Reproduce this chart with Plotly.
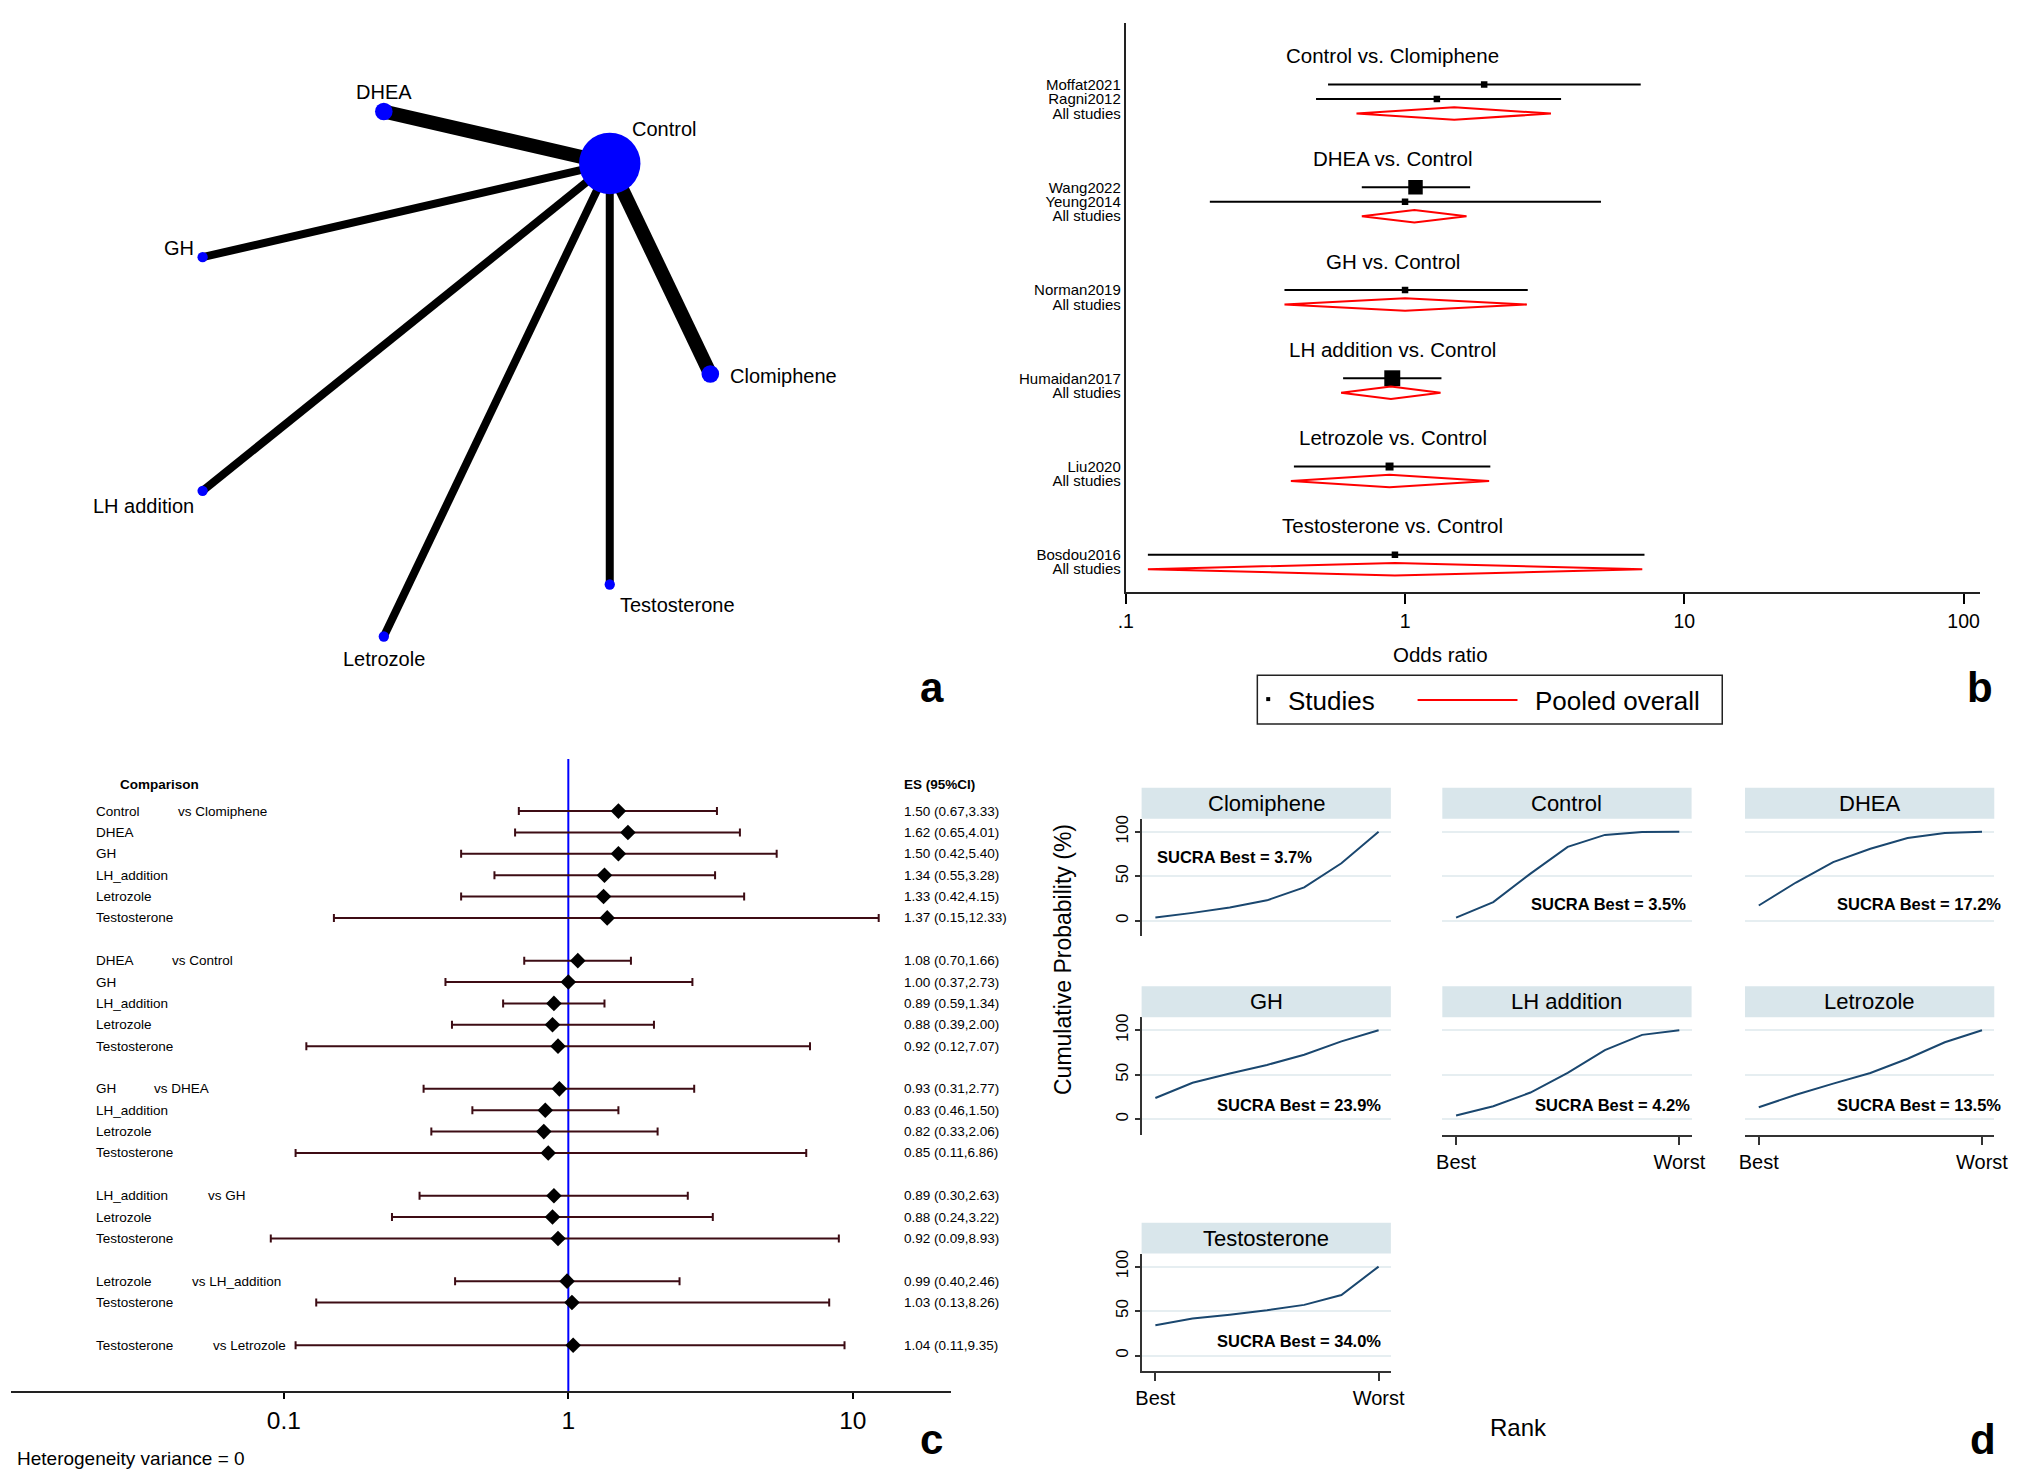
import math
import plotly.graph_objects as go

W, H = 2033, 1472
FONT = "Liberation Sans, Arial, Helvetica, sans-serif"

# ---------------- data: panel a (network) ----------------
net_nodes = ["Clomiphene", "Control", "DHEA", "GH", "LH addition", "Letrozole", "Testosterone"]
net_node_studies = [2, 8, 2, 1, 1, 1, 1]
net_edges = [("Control", "Clomiphene"), ("Control", "DHEA"), ("Control", "GH"),
             ("Control", "LH addition"), ("Control", "Letrozole"), ("Control", "Testosterone")]
net_edge_studies = [2, 2, 1, 1, 1, 1]

# ---------------- data: panel b (pairwise forest) ----------------
b_titles = ["Control vs. Clomiphene", "DHEA vs. Control", "GH vs. Control",
            "LH addition vs. Control", "Letrozole vs. Control", "Testosterone vs. Control"]
b_studies = [["Moffat2021", "Ragni2012"], ["Wang2022", "Yeung2014"], ["Norman2019"],
             ["Humaidan2017"], ["Liu2020"], ["Bosdou2016"]]
b_or = [[1.92, 1.30], [1.09, 1.00], [1.00], [0.90], [0.88], [0.92]]
b_lo = [[0.53, 0.48], [0.70, 0.20], [0.37], [0.60], [0.40], [0.12]]
b_hi = [[6.98, 3.62], [1.71, 5.03], [2.75], [1.35], [2.02], [7.20]]
b_pool_or = [1.50, 1.08, 1.00, 0.89, 0.88, 0.92]
b_pool_lo = [0.67, 0.70, 0.37, 0.59, 0.39, 0.12]
b_pool_hi = [3.33, 1.66, 2.73, 1.34, 2.00, 7.07]

# ---------------- data: panel c (network forest) ----------------
c_groups = ["Clomiphene", "Control", "DHEA", "GH", "LH_addition", "Letrozole"]
c_treat = [["Control", "DHEA", "GH", "LH_addition", "Letrozole", "Testosterone"],
           ["DHEA", "GH", "LH_addition", "Letrozole", "Testosterone"],
           ["GH", "LH_addition", "Letrozole", "Testosterone"],
           ["LH_addition", "Letrozole", "Testosterone"],
           ["Letrozole", "Testosterone"],
           ["Testosterone"]]
c_es = [[1.50, 1.62, 1.50, 1.34, 1.33, 1.37], [1.08, 1.00, 0.89, 0.88, 0.92],
        [0.93, 0.83, 0.82, 0.85], [0.89, 0.88, 0.92], [0.99, 1.03], [1.04]]
c_lo = [[0.67, 0.65, 0.42, 0.55, 0.42, 0.15], [0.70, 0.37, 0.59, 0.39, 0.12],
        [0.31, 0.46, 0.33, 0.11], [0.30, 0.24, 0.09], [0.40, 0.13], [0.11]]
c_hi = [[3.33, 4.01, 5.40, 3.28, 4.15, 12.33], [1.66, 2.73, 1.34, 2.00, 7.07],
        [2.77, 1.50, 2.06, 6.86], [2.63, 3.22, 8.93], [2.46, 8.26], [9.35]]

# ---------------- data: panel d (cumulative rankograms) ----------------
d_treat = ["Clomiphene", "Control", "DHEA", "GH", "LH addition", "Letrozole", "Testosterone"]
d_rank = [1, 2, 3, 4, 5, 6, 7]
d_cum = [[3.7, 8.9, 15.0, 23.0, 37.5, 64.6, 100],
         [3.5, 21.0, 53.0, 83.0, 96.5, 99.8, 100],
         [17.2, 43.0, 66.0, 81.0, 93.0, 98.5, 100],
         [23.9, 41.0, 51.5, 61.0, 72.4, 87.5, 100],
         [4.2, 14.6, 30.0, 52.0, 77.6, 94.8, 100],
         [13.5, 27.6, 40.0, 52.0, 68.0, 86.5, 100],
         [34.0, 41.7, 46.0, 51.0, 57.0, 68.0, 100]]
d_sucra = [3.7, 3.5, 17.2, 23.9, 4.2, 13.5, 34.0]


# ---------------- helpers ----------------
def dx(a, b):
    return [a / W, b / W]


def dy(top, bottom):
    return [1 - bottom / H, 1 - top / H]


def px(x):
    return x / W


def py(y):
    return 1 - y / H


fig = go.Figure()
layout = dict(width=W, height=H, margin=dict(l=0, r=0, t=0, b=0),
              paper_bgcolor="white", plot_bgcolor="rgba(0,0,0,0)", showlegend=False,
              font=dict(family=FONT, color="black"))
ann = []
shapes = []

# ================= panel a =================
n = len(net_nodes)
ang = [2 * math.pi * k / n for k in range(n)]
nxs = [math.cos(a) for a in ang]
nys = [math.sin(a) for a in ang]
pos = {name: (x, y) for name, x, y in zip(net_nodes, nxs, nys)}
for (u, v), ns in zip(net_edges, net_edge_studies):
    fig.add_trace(go.Scatter(x=[pos[u][0], pos[v][0]], y=[pos[u][1], pos[v][1]], mode="lines",
                             line=dict(color="black", width=2 + 6 * ns), xaxis="x", yaxis="y",
                             hoverinfo="skip"))
fig.add_trace(go.Scatter(x=nxs, y=nys, mode="markers", xaxis="x", yaxis="y",
                         marker=dict(size=[3 + 7.3 * s for s in net_node_studies], color="#0000ff",
                                     opacity=1, line=dict(width=0)), hoverinfo="skip"))
layout["xaxis"] = dict(domain=dx(0, 900), range=[-440 / 270, 460 / 270], visible=False)
layout["yaxis"] = dict(domain=dy(0, 700), range=[(371 - 700) / 270, 371 / 270], visible=False)
lab_style = {"Clomiphene": ("left", 18, -2), "Control": ("left", 20, 34), "DHEA": ("center", 0, 19),
             "GH": ("right", -7, 9), "LH addition": ("right", -7, -15), "Letrozole": ("center", 0, -22),
             "Testosterone": ("left", 8, -20)}
for name in net_nodes:
    xa, xs, ys = lab_style[name]
    ann.append(dict(x=pos[name][0], y=pos[name][1], xref="x", yref="y", text=name, showarrow=False,
                    xanchor=xa, yanchor="middle", xshift=xs, yshift=ys, font=dict(size=20)))
ann.append(dict(x=px(934), y=py(685), xref="paper", yref="paper", text="<b>a</b>", showarrow=False,
                font=dict(size=42), xanchor="center", yanchor="middle"))

# ================= panel b =================
title_y, study_y, pool_y = [], [], []
t = 0.0
for g in range(len(b_titles)):
    title_y.append(t)
    r = t + 2
    ys = []
    for _ in b_studies[g]:
        ys.append(r)
        r += 1
    study_y.append(ys)
    pool_y.append(r)
    t = r + 3.1
yb_bottom = pool_y[-1] + 1.6
yb_top = -2.26
tickv, tickt = [], []
for g in range(len(b_titles)):
    for s, yy in zip(b_studies[g], study_y[g]):
        tickv.append(yy)
        tickt.append(s)
    tickv.append(pool_y[g])
    tickt.append("All studies")

for g in range(len(b_titles)):
    for k in range(len(b_studies[g])):
        yy = study_y[g][k]
        fig.add_trace(go.Scatter(x=[b_lo[g][k], b_hi[g][k]], y=[yy, yy], mode="lines",
                                 line=dict(color="black", width=2), xaxis="x2", yaxis="y2",
                                 hoverinfo="skip"))
        se = (math.log(b_hi[g][k]) - math.log(b_lo[g][k])) / 3.92
        size = max(6.5, 3.3 * math.sqrt(1 / se ** 2))
        fig.add_trace(go.Scatter(x=[b_or[g][k]], y=[yy], mode="markers",
                                 marker=dict(symbol="square", size=size, color="black", opacity=1),
                                 xaxis="x2", yaxis="y2", hoverinfo="skip"))
    yy = pool_y[g]
    h = 0.43
    fig.add_trace(go.Scatter(x=[b_pool_lo[g], b_pool_or[g], b_pool_hi[g], b_pool_or[g], b_pool_lo[g]],
                             y=[yy, yy - h, yy, yy + h, yy], mode="lines",
                             line=dict(color="#ff0000", width=2), xaxis="x2", yaxis="y2",
                             hoverinfo="skip"))
    ann.append(dict(x=px(1400), y=title_y[g], xref="paper", yref="y2", text=b_titles[g],
                    showarrow=False, xanchor="center", yanchor="middle", font=dict(size=20.5)))

layout["xaxis2"] = dict(domain=dx(1130, 1994), type="log", range=[-1, 2 + 17 / 282.3], anchor="y2",
                        tickvals=[0.1, 1, 10, 100], ticktext=[".1", "1", "10", "100"],
                        ticks="outside", ticklen=10, tickwidth=2, tickcolor="black",
                        showline=True, linewidth=2, linecolor="#222", showgrid=False,
                        zeroline=False, tickfont=dict(size=19.5))
layout["yaxis2"] = dict(domain=dy(19, 590), range=[yb_bottom, yb_top], anchor="x2",
                        tickvals=tickv, ticktext=tickt, ticks="", showline=True, linewidth=2,
                        linecolor="#222", showgrid=False, zeroline=False, tickfont=dict(size=15))
ann.append(dict(x=px(1498), y=py(652), xref="paper", yref="paper", text="Odds ratio",
                showarrow=False, font=dict(size=20.5)))
# legend box
shapes.append(dict(type="rect", xref="paper", yref="paper", x0=px(1263), x1=px(1733),
                   y0=py(722), y1=py(673), line=dict(color="#222", width=1.5)))
shapes.append(dict(type="rect", xref="paper", yref="paper", x0=px(1272), x1=px(1276),
                   y0=py(699), y1=py(695), fillcolor="black", line=dict(width=0)))
shapes.append(dict(type="line", xref="paper", yref="paper", x0=px(1425), x1=px(1526),
                   y0=py(698), y1=py(698), line=dict(color="#ff0000", width=2)))
ann.append(dict(x=px(1292), y=py(699), xref="paper", yref="paper", text="Studies", showarrow=False,
                xanchor="left", yanchor="middle", font=dict(size=26)))
ann.append(dict(x=px(1542), y=py(699), xref="paper", yref="paper", text="Pooled overall",
                showarrow=False, xanchor="left", yanchor="middle", font=dict(size=26)))
ann.append(dict(x=px(1994), y=py(685), xref="paper", yref="paper", text="<b>b</b>", showarrow=False,
                font=dict(size=42), xanchor="center", yanchor="middle"))

# ================= panel c =================
vs_x = {"Clomiphene": 170, "Control": 164, "DHEA": 146, "GH": 200, "LH_addition": 184, "Letrozole": 205}
row = 0
cx_es, cx_lo, cx_hi, cy = [], [], [], []
for g, ref in enumerate(c_groups):
    for k, trt in enumerate(c_treat[g]):
        cx_es.append(c_es[g][k])
        cx_lo.append(c_lo[g][k])
        cx_hi.append(c_hi[g][k])
        cy.append(row)
        ann.append(dict(x=px(87), y=row, xref="paper", yref="y3", text=trt, showarrow=False,
                        xanchor="left", yanchor="middle", font=dict(size=13.5)))
        if k == 0:
            ann.append(dict(x=px(vs_x[ref]), y=row, xref="paper", yref="y3", text="vs " + ref,
                            showarrow=False, xanchor="left", yanchor="middle", font=dict(size=13.5)))
        ann.append(dict(x=px(904), y=row, xref="paper", yref="y3",
                        text="%.2f (%.2f,%.2f)" % (c_es[g][k], c_lo[g][k], c_hi[g][k]),
                        showarrow=False, xanchor="left", yanchor="middle", font=dict(size=13.5)))
        row += 1
    row += 1

fig.add_trace(go.Scatter(x=cx_es, y=cy, mode="markers", xaxis="x3", yaxis="y3",
                         marker=dict(symbol="diamond", size=12, color="black", opacity=1),
                         error_x=dict(type="data", symmetric=False,
                                      array=[h_ - e for h_, e in zip(cx_hi, cx_es)],
                                      arrayminus=[e - l for l, e in zip(cx_lo, cx_es)],
                                      color="#3d0c14", thickness=2, width=4),
                         hoverinfo="skip"))
layout["xaxis3"] = dict(domain=dx(3, 953), type="log", range=[-1.959, 1.344], anchor="y3",
                        tickvals=[0.1, 1, 10], ticktext=["0.1", "1", "10"], ticks="outside",
                        ticklen=6, tickwidth=1.5, tickcolor="black", showline=True, linewidth=2,
                        linecolor="#222", showgrid=False, zeroline=False, tickfont=dict(size=24.5))
layout["yaxis3"] = dict(domain=dy(757, 1391), range=[27.15, -2.44], visible=False)
shapes.append(dict(type="line", xref="x3", yref="y3 domain", x0=1, x1=1, y0=0, y1=1,
                   line=dict(color="#0000ff", width=2), layer="below"))
ann.append(dict(x=px(111), y=-1.26, xref="paper", yref="y3", text="<b>Comparison</b>", showarrow=False,
                xanchor="left", yanchor="middle", font=dict(size=13.5)))
ann.append(dict(x=px(904), y=-1.26, xref="paper", yref="y3", text="<b>ES (95%CI)</b>", showarrow=False,
                xanchor="left", yanchor="middle", font=dict(size=13.5)))
ann.append(dict(x=px(7), y=py(1458), xref="paper", yref="paper", text="Heterogeneity variance = 0",
                showarrow=False, xanchor="left", yanchor="middle", font=dict(size=19)))
ann.append(dict(x=px(934), y=py(1439), xref="paper", yref="paper", text="<b>c</b>", showarrow=False,
                font=dict(size=42), xanchor="center", yanchor="middle"))

# ================= panel d =================
d_cols = [(1146, 1398), (1450, 1702), (1756, 2008)]
d_rows = [(817, 935), (1016, 1134), (1253, 1371)]
sucra_pos = [(1.0, 72, "left"), (5.1, 19, "center"), (5.3, 19, "center"), (4.85, 16.5, "center"),
             (5.2, 16.5, "center"), (5.3, 16.5, "center"), (4.85, 16.5, "center")]
for k, trt in enumerate(d_treat):
    i, j = divmod(k, 3)
    nn = 4 + k
    xa, ya = "x%d" % nn, "y%d" % nn
    bottom = k >= 4
    left = j == 0
    c0, c1 = d_cols[j]
    r0, r1 = d_rows[i]
    fig.add_trace(go.Scatter(x=d_rank, y=d_cum[k], mode="lines", xaxis=xa, yaxis=ya,
                             line=dict(color="#1a476f", width=2), hoverinfo="skip"))
    layout["xaxis%d" % nn] = dict(domain=dx(c0, c1), range=[0.63, 7.33], anchor=ya,
                                  tickvals=[1, 7], ticktext=["Best", "Worst"],
                                  showticklabels=bottom, showline=bottom,
                                  ticks="outside" if bottom else "", ticklen=8, tickwidth=1.5,
                                  tickcolor="#333", linecolor="#333", linewidth=1.5,
                                  showgrid=False, zeroline=False, tickfont=dict(size=20))
    layout["yaxis%d" % nn] = dict(domain=dy(r0, r1), range=[-17.6, 114.6], anchor=xa,
                                  tickvals=[0, 50, 100], ticktext=["0", "50", "100"],
                                  showticklabels=left, showline=left, tickangle=-90,
                                  ticks="outside" if left else "", ticklen=5, tickwidth=1.5,
                                  tickcolor="#333", linecolor="#333", linewidth=1.5,
                                  showgrid=True, gridcolor="#e6eef1", gridwidth=2,
                                  zeroline=False, tickfont=dict(size=17))
    shapes.append(dict(type="rect", xref="paper", yref="paper", x0=px(c0), x1=px(c1),
                       y0=py(r0), y1=py(r0 - 31), fillcolor="#d9e6eb", line=dict(width=0)))
    ann.append(dict(x=px((c0 + c1) / 2), y=py(r0 - 15.5), xref="paper", yref="paper", text=trt,
                    showarrow=False, xanchor="center", yanchor="middle", font=dict(size=22)))
    sx, sy, sa = sucra_pos[k]
    ann.append(dict(x=sx, y=sy, xref=xa, yref=ya, text="<b>SUCRA Best = %.1f%%</b>" % d_sucra[k],
                    showarrow=False, xanchor=sa, yanchor="middle", font=dict(size=16.5)))

ann.append(dict(x=px(1066), y=py(1096), xref="paper", yref="paper", text="Cumulative Probability (%)",
                showarrow=False, textangle=-90, font=dict(size=23)))
ann.append(dict(x=px(1558), y=py(1443), xref="paper", yref="paper", text="Rank",
                showarrow=False, font=dict(size=24)))
ann.append(dict(x=px(1997), y=py(1439), xref="paper", yref="paper", text="<b>d</b>", showarrow=False,
                font=dict(size=42), xanchor="center", yanchor="middle"))

layout["annotations"] = ann
layout["shapes"] = shapes
fig.update_layout(**layout)
fig.write_html("out.html", config={"displayModeBar": False},
               post_script="document.body.style.margin='0';document.body.style.overflow='hidden';")
